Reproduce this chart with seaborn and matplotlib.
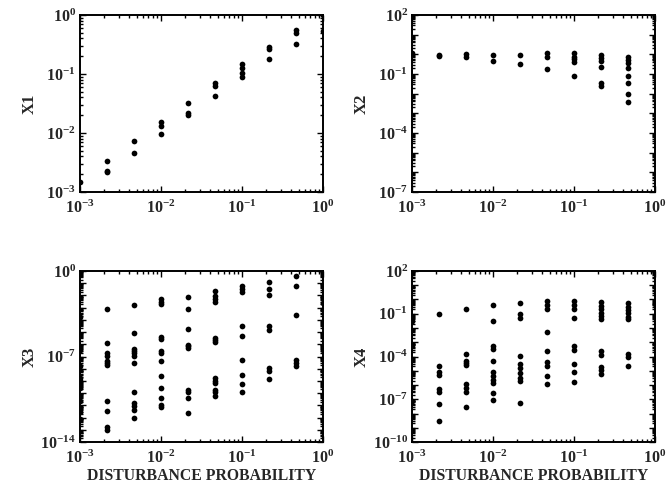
import numpy as np
import pandas as pd
import matplotlib
matplotlib.use('Agg')
import matplotlib.pyplot as plt
import seaborn as sns
from matplotlib.ticker import FixedLocator, LogLocator, NullFormatter

# disturbance probability levels (edges 1e-3 and 1 sit on the spines)
prob = [0.001, 0.00215, 0.00464, 0.01, 0.0215, 0.0464, 0.1, 0.215, 0.464, 1.0]

# values, one list per probability level
x1_vals = [
    [0.0015],
    [0.00335, 0.0023, 0.00214],
    [0.0073, 0.0045],
    [0.0156, 0.013, 0.0096],
    [0.0326, 0.0216, 0.0202],
    [0.0713, 0.0627, 0.0429],
    [0.148, 0.125, 0.103, 0.09],
    [0.29, 0.262, 0.177],
    [0.557, 0.50, 0.318],
    [1.0, 0.53],
]
x2_vals = [
    [1.1],
    [0.93, 0.85],
    [1.0, 0.7],
    [0.95, 0.48],
    [0.95, 0.32],
    [1.1, 0.76, 0.17],
    [1.1, 0.76, 0.56, 0.43, 0.08],
    [0.93, 0.63, 0.48, 0.22, 0.034, 0.025],
    [0.76, 0.51, 0.35, 0.195, 0.079, 0.034, 0.0093, 0.0039],
    [0.6],
]
x3_vals = [
    [1.8e-4, 3.3e-7, 1.6e-8, 1.8e-9, 9.5e-10, 2.7e-10, 2.5e-11, 2.7e-12, 7.8e-13],
    [7.2e-4, 1.2e-6, 1.8e-7, 1.2e-7, 4.7e-8, 3.0e-8, 1.9e-8, 2.2e-11, 3.3e-12, 1.7e-13, 1.0e-13],
    [1.6e-3, 7.8e-6, 4.3e-7, 2.8e-7, 1.8e-7, 1.2e-7, 2.7e-8, 1.2e-10, 1.6e-11, 9.5e-12, 4.0e-12, 9.3e-13],
    [4.8e-3, 2.9e-3, 1.9e-3, 3.9e-6, 2.5e-6, 2.8e-7, 1.8e-7, 4.7e-8, 2.5e-9, 2.7e-10, 4.1e-11, 1.1e-11, 6.9e-12],
    [7.8e-3, 8.1e-4, 1.9e-5, 9.5e-7, 7.1e-7, 4.6e-7, 1.9e-10, 1.3e-10, 4.1e-11, 2.4e-12],
    [2.3e-2, 8.9e-3, 4.8e-3, 3.0e-3, 3.4e-6, 2.2e-6, 1.5e-6, 1.8e-9, 9.5e-10, 6.2e-10, 1.9e-10, 1.2e-10, 5.6e-11],
    [5.9e-2, 3.5e-2, 1.9e-2, 3.1e-5, 5.2e-6, 5.0e-8, 3.3e-9, 5.8e-10, 1.3e-10],
    [0.126, 3.2e-2, 1.15e-2, 3.1e-5, 1.6e-5, 1.2e-8, 6.3e-9, 1.5e-9],
    [0.39, 5.9e-2, 2.3e-4, 5.0e-8, 3.0e-8, 1.8e-8],
    [2.5e-3, 3.7e-7],
]
x4_vals = [
    [3.0e-2, 6.9e-4, 7.1e-6, 7.2e-8],
    [0.1, 2.3e-5, 7.9e-6, 5.4e-6, 5.6e-7, 3.1e-7, 4.9e-8, 2.8e-9],
    [0.22, 1.5e-4, 5.2e-5, 3.5e-5, 2.5e-5, 1.1e-6, 6.3e-7, 3.1e-7, 2.8e-8],
    [0.39, 3.0e-2, 5.9e-4, 3.5e-4, 5.2e-5, 7.9e-6, 4.6e-6, 2.4e-6, 1.4e-6, 2.8e-7, 9.5e-8],
    [0.54, 8.9e-2, 5.2e-2, 1.05e-4, 3.2e-5, 1.6e-5, 7.1e-6, 3.2e-6, 1.8e-6, 5.5e-8],
    [0.78, 0.39, 0.2, 5.1e-3, 2.3e-4, 4.0e-5, 2.3e-5, 4.6e-6, 1.1e-6],
    [0.78, 0.39, 0.2, 5.2e-2, 5.4e-4, 3.1e-4, 3.2e-5, 7.9e-6, 1.5e-6],
    [0.66, 0.35, 0.2, 0.12, 6.9e-2, 4.0e-2, 2.3e-4, 1.2e-4, 1.9e-5, 1.1e-5, 6.3e-6],
    [0.54, 0.31, 0.18, 0.105, 6.2e-2, 4.5e-2, 1.4e-4, 9.5e-5, 2.3e-5],
    [0.46, 6.2e-5],
]

ylabels = ['X1', 'X2', 'X3', 'X4']
y_exp_range = [(-3, 0), (-7, 2), (-14, 0), (-10, 2)]
y_labeled = [[-3, -2, -1, 0], [-7, -4, -1, 2], [-14, -7, 0], [-10, -7, -4, -1, 2]]
x_exps = [-3, -2, -1, 0]

sns.set_style('ticks')
plt.rcParams['font.family'] = ['Liberation Serif', 'DejaVu Serif']
plt.rcParams['font.weight'] = 'bold'
plt.rcParams['mathtext.fontset'] = 'custom'
plt.rcParams['mathtext.rm'] = 'Liberation Serif:bold'
plt.rcParams['mathtext.it'] = 'Liberation Serif:bold'
plt.rcParams['mathtext.bf'] = 'Liberation Serif:bold'
plt.rcParams['mathtext.default'] = 'rm'

fig = plt.figure(figsize=(6.69, 4.92), dpi=100)
rects = [
    [0.1196, 0.6098, 0.3632, 0.3598],
    [0.6158, 0.6098, 0.3632, 0.3598],
    [0.1196, 0.1016, 0.3632, 0.3476],
    [0.6158, 0.1016, 0.3632, 0.3476],
]


def long_df(vals):
    rows = [(p, v) for p, vs in zip(prob, vals) for v in vs]
    return pd.DataFrame(rows, columns=['prob', 'value'])


for i, vals in enumerate([x1_vals, x2_vals, x3_vals, x4_vals]):
    ax = fig.add_axes(rects[i])
    df = long_df(vals)
    sns.scatterplot(data=df, x='prob', y='value', ax=ax, color='black',
                    s=17, linewidth=0, legend=False, zorder=3)
    ax.set_xscale('log')
    ax.set_yscale('log')
    ax.set_xlim(1e-3, 1)
    lo, hi = y_exp_range[i]
    ax.set_ylim(10.0 ** lo, 10.0 ** hi)

    ax.xaxis.set_major_locator(FixedLocator([10.0 ** e for e in x_exps]))
    ax.set_xticklabels([r'$10^{%d}$' % e for e in x_exps])
    ax.xaxis.set_minor_locator(LogLocator(base=10, subs=np.arange(2, 10), numticks=50))
    ax.xaxis.set_minor_formatter(NullFormatter())

    exps = list(range(lo, hi + 1))
    ax.yaxis.set_major_locator(FixedLocator([10.0 ** e for e in exps]))
    ax.set_yticklabels([r'$10^{%d}$' % e if e in y_labeled[i] else '' for e in exps])
    ax.yaxis.set_minor_locator(LogLocator(base=10, subs=np.arange(2, 10), numticks=100))
    ax.yaxis.set_minor_formatter(NullFormatter())

    ax.tick_params(which='both', direction='in', top=True, right=True,
                   color='black', width=1.0)
    ax.tick_params(which='major', length=4.5, labelsize=11.5)
    ax.tick_params(axis='y', which='major', pad=3)
    ax.tick_params(axis='x', which='major', pad=5.5)
    ax.tick_params(which='minor', length=2)
    for sp in ax.spines.values():
        sp.set_linewidth(1.4)
        sp.set_color('black')

    ax.set_ylabel(ylabels[i], fontsize=12, fontweight='bold')
    ax.yaxis.set_label_coords(-0.175, 0.5)
    if i >= 2:
        ax.set_xlabel('DISTURBANCE PROBABILITY', fontsize=11.3, fontweight='bold')
        ax.xaxis.set_label_coords(0.5, -0.15)
    else:
        ax.set_xlabel('')

fig.savefig('out.png', dpi=100)
